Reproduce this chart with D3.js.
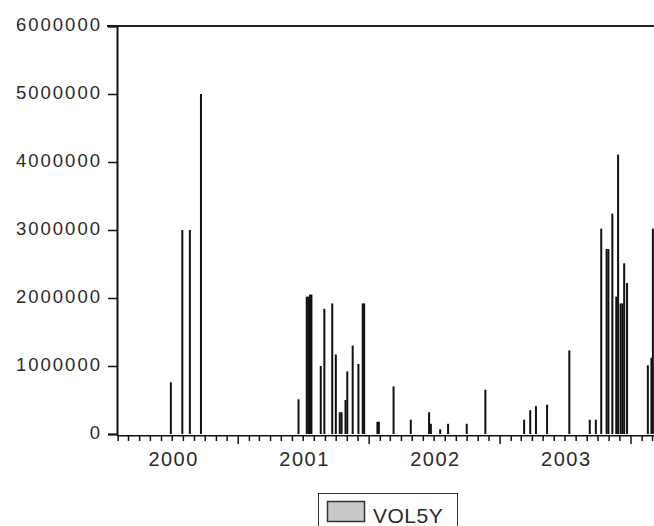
<!DOCTYPE html>
<html>
<head>
<meta charset="utf-8">
<script src="https://cdn.jsdelivr.net/npm/d3@7"></script>
<style>
  html, body { margin: 0; padding: 0; background: #fff; }
  svg { display: block; font-family: "Liberation Sans", Arial, sans-serif; }
</style>
</head>
<body>
<svg id="chart"></svg>
<script>
// VOL5Y observations (date, volume)
let barDates = [
    "2000-06-27", "2000-07-29", "2000-08-19", "2000-09-19",
    "2001-06-18", "2001-07-11", "2001-07-15", "2001-07-20", "2001-07-24",
    "2001-08-19", "2001-08-29", "2001-09-20", "2001-09-30", "2001-10-11", "2001-10-16",
    "2001-10-27", "2001-11-01", "2001-11-16", "2001-12-02", "2001-12-14", "2001-12-18",
    "2002-01-24", "2002-01-28", "2002-03-10", "2002-04-27", "2002-06-17", "2002-06-22",
    "2002-07-18", "2002-08-09", "2002-09-30", "2002-11-21",
    "2003-03-09", "2003-03-26", "2003-04-11", "2003-05-12", "2003-07-13",
    "2003-09-08", "2003-09-25", "2003-10-10", "2003-10-25", "2003-10-30", "2003-11-10",
    "2003-11-21", "2003-11-26", "2003-12-03", "2003-12-08", "2003-12-13", "2003-12-21",
    "2004-02-17", "2004-02-27", "2004-03-02"
];
let barValues = [
    760000, 3000000, 3000000, 5000000,
    510000, 2020000, 2020000, 2050000, 2050000,
    1000000, 1840000, 1920000, 1170000, 320000, 320000,
    500000, 920000, 1300000, 1030000, 1920000, 1920000,
    180000, 180000, 700000, 210000, 320000, 150000,
    70000, 150000, 150000, 650000,
    210000, 350000, 410000, 430000, 1230000,
    210000, 210000, 3020000, 2720000, 2720000, 3240000,
    2020000, 4110000, 1920000, 1920000, 2510000, 2220000,
    1010000, 1120000, 3020000
];
let yTicks = [0, 1000000, 2000000, 3000000, 4000000, 5000000, 6000000];
let yearLabels = ["2000", "2001", "2002", "2003"];
let seriesName = "VOL5Y";

let svgWidth = 654;
let svgHeight = 526;
let plotLeft = 117;
let plotTop = 26;
let plotBottom = 434;

let parse = d3.timeParse("%Y-%m-%d");
let data = barDates.map((d, i) => ({date: parse(d), value: barValues[i]}));

let svg = d3.select("#chart")
    .attr("width", svgWidth)
    .attr("height", svgHeight);

let x = d3.scaleTime()
    .domain([new Date(2000, 0, 1), new Date(2004, 0, 1)])
    .range([107, 631]);
let y = d3.scaleLinear()
    .domain([0, 6000000])
    .range([plotBottom, plotTop]);

svg.append("clipPath").attr("id", "plotclip")
    .append("rect")
    .attr("x", plotLeft).attr("y", 0)
    .attr("width", svgWidth - plotLeft).attr("height", svgHeight);

// bars
svg.append("g")
    .attr("clip-path", "url(#plotclip)")
    .selectAll("rect")
    .data(data).enter().append("rect")
    .attr("x", d => x(d.date) - 1)
    .attr("width", 2)
    .attr("y", d => y(d.value))
    .attr("height", d => y(0) - y(d.value))
    .attr("fill", "#111");

// top frame line
svg.append("line")
    .attr("x1", 107).attr("x2", svgWidth)
    .attr("y1", plotTop).attr("y2", plotTop)
    .attr("stroke", "#222").attr("stroke-width", 2);

// y axis
let yAxis = d3.axisLeft(y)
    .tickValues(yTicks)
    .tickFormat(d3.format("d"))
    .tickSize(9)
    .tickPadding(6);
let gy = svg.append("g")
    .attr("transform", "translate(" + plotLeft + ",0)")
    .call(yAxis);
gy.select(".domain").attr("stroke", "#111").attr("stroke-width", 2);
gy.selectAll(".tick line").attr("stroke", "#111").attr("stroke-width", 1.5);
gy.selectAll(".tick text")
    .attr("dy", null).attr("y", 4)
    .attr("fill", "#2a2a2a")
    .style("font-size", "18.5px")
    .style("letter-spacing", "2px");

// x axis: month ticks, longer year ticks, year labels at mid-year
let gx = svg.append("g")
    .attr("clip-path", "url(#plotclip)")
    .attr("transform", "translate(0," + (plotBottom + 1) + ")");
let months = d3.timeMonth.range(new Date(1999, 11, 1), new Date(2004, 4, 1));
gx.selectAll("line.month")
    .data(months).enter().append("line")
    .attr("class", "month")
    .attr("x1", d => x(d)).attr("x2", d => x(d))
    .attr("y1", 0)
    .attr("y2", d => d.getMonth() === 0 ? 9 : 6)
    .attr("stroke", "#111").attr("stroke-width", 1.5);
gx.append("line")
    .attr("x1", plotLeft).attr("x2", svgWidth)
    .attr("y1", 0).attr("y2", 0)
    .attr("stroke", "#111").attr("stroke-width", 3);

svg.append("g").selectAll("text")
    .data(yearLabels).enter().append("text")
    .attr("x", d => x(new Date(+d, 6, 2)) + 1)
    .attr("y", 466)
    .attr("text-anchor", "middle")
    .attr("fill", "#2a2a2a")
    .style("font-size", "20px")
    .style("letter-spacing", "1.5px")
    .text(d => d);

// legend
let lg = svg.append("g");
lg.append("rect")
    .attr("x", 318.5).attr("y", 493.5)
    .attr("width", 139).attr("height", 45)
    .attr("fill", "#fff").attr("stroke", "#333").attr("stroke-width", 1);
lg.append("rect")
    .attr("x", 327.5).attr("y", 501.5)
    .attr("width", 37).attr("height", 20)
    .attr("fill", "#c8c8c8").attr("stroke", "#333").attr("stroke-width", 1.5);
lg.append("text")
    .attr("x", 373).attr("y", 523)
    .attr("fill", "#2a2a2a")
    .style("font-size", "21px")
    .style("letter-spacing", "0.5px")
    .text(seriesName);
</script>
</body>
</html>
